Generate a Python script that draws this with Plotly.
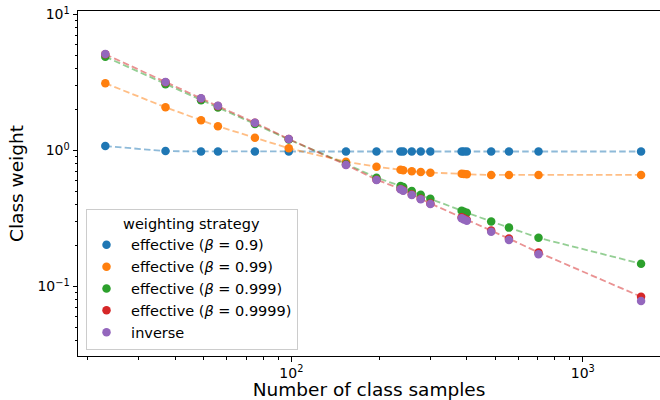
import plotly.graph_objects as go

# Number of training samples per class (20 classes)
class_samples = [23, 37, 49, 56, 75, 98, 154, 196, 237, 242, 259, 278, 300,
                 384, 391, 400, 485, 558, 705, 1585]

# Normalised class weights for each weighting strategy
w_beta_0_9 = [1.078, 0.99, 0.984, 0.983, 0.983, 0.983, 0.983, 0.983, 0.983, 0.983,
              0.983, 0.983, 0.983, 0.983, 0.983, 0.983, 0.983, 0.983, 0.983, 0.983]
w_beta_0_99 = [3.12, 2.08, 1.668, 1.507, 1.242, 1.038, 0.827, 0.760, 0.722, 0.715,
               0.703, 0.695, 0.687, 0.675, 0.672, 0.668, 0.661, 0.661, 0.661, 0.661]
w_beta_0_999 = [4.89, 3.07, 2.34, 2.07, 1.568, 1.204, 0.797, 0.631, 0.549, 0.538,
                0.504, 0.473, 0.441, 0.361, 0.354, 0.349, 0.301, 0.271, 0.228, 0.147]
w_beta_0_9999 = [5.10, 3.18, 2.41, 2.12, 1.60, 1.214, 0.785, 0.610, 0.522, 0.510,
                 0.475, 0.442, 0.408, 0.323, 0.316, 0.310, 0.258, 0.225, 0.178, 0.0841]
w_inverse = [5.12, 3.19, 2.42, 2.13, 1.60, 1.215, 0.783, 0.607, 0.518, 0.506,
             0.471, 0.438, 0.404, 0.318, 0.311, 0.305, 0.253, 0.220, 0.173, 0.0783]

series_names = ["effective (<i>β</i> = 0.9)", "effective (<i>β</i> = 0.99)",
                "effective (<i>β</i> = 0.999)", "effective (<i>β</i> = 0.9999)",
                "inverse"]
series_values = [w_beta_0_9, w_beta_0_99, w_beta_0_999, w_beta_0_9999, w_inverse]
colors = ["#1f77b4", "#ff7f0e", "#2ca02c", "#d62728", "#9467bd"]
has_line = [True, True, True, True, False]

FONT = "DejaVu Sans"

fig = go.Figure()

# dashed connecting lines (drawn beneath the markers)
for vals, col, line in zip(series_values, colors, has_line):
    if line:
        fig.add_trace(go.Scatter(
            x=class_samples, y=vals, mode="lines",
            line=dict(color=col, width=1.8, dash="6.5px,3.2px"),
            opacity=0.5, showlegend=False, hoverinfo="skip"))

# markers; a leading no-break space widens the gap between symbol and label
for name, vals, col in zip(series_names, series_values, colors):
    fig.add_trace(go.Scatter(
        x=class_samples, y=vals, mode="markers", name="\u00a0" + name,
        marker=dict(color=col, size=8.5, line=dict(width=0))))

y_minor = [0.04, 0.05, 0.06, 0.07, 0.08, 0.09,
           0.2, 0.3, 0.4, 0.5, 0.6, 0.7, 0.8, 0.9,
           2, 3, 4, 5, 6, 7, 8, 9]
x_minor = [20, 30, 40, 50, 60, 70, 80, 90,
           200, 300, 400, 500, 600, 700, 800, 900]

fig.update_layout(
    width=660, height=400,
    margin=dict(l=78, r=0, t=11, b=44),
    paper_bgcolor="white", plot_bgcolor="white",
    font=dict(family=FONT, size=14, color="black"),
    legend=dict(
        title=dict(text="weighting strategy", side="top center",
                   font=dict(family=FONT, size=14.5)),
        x=0.0129, y=0.426, xanchor="left", yanchor="top",
        bgcolor="rgba(255,255,255,0.8)", bordercolor="#cccccc", borderwidth=1,
        font=dict(family=FONT, size=14.5),
    ),
    xaxis=dict(
        type="log", range=[1.268, 3.265], automargin=False,
        showline=True, linecolor="black", linewidth=1, mirror=True,
        showgrid=False, zeroline=False,
        ticks="outside", ticklen=4.5, tickwidth=1, tickcolor="black",
        tickmode="array", tickvals=[100, 1000],
        ticktext=["10<sup>2</sup>", "10<sup>3</sup>"],
        tickfont=dict(family=FONT, size=14),
        minor=dict(ticks="outside", ticklen=2.5, tickwidth=0.8, tickcolor="black",
                   tickmode="array", tickvals=x_minor, showgrid=False),
        title=dict(text="Number of class samples", font=dict(family=FONT, size=18.5),
                   standoff=10),
    ),
    yaxis=dict(
        type="log", range=[-1.511, 1.0257], automargin=False,
        showline=True, linecolor="black", linewidth=1, mirror=False,
        showgrid=False, zeroline=False,
        ticks="outside", ticklen=4.5, tickwidth=1, tickcolor="black",
        tickmode="array", tickvals=[0.1, 1, 10],
        ticktext=["10<sup>−1</sup>", "10<sup>0</sup>", "10<sup>1</sup>"],
        tickfont=dict(family=FONT, size=14),
        minor=dict(ticks="outside", ticklen=2.5, tickwidth=0.8, tickcolor="black",
                   tickmode="array", tickvals=y_minor, showgrid=False),
        title=dict(text="Class weight", font=dict(family=FONT, size=18.5),
                   standoff=8),
    ),
)

fig.write_html("out.html")
